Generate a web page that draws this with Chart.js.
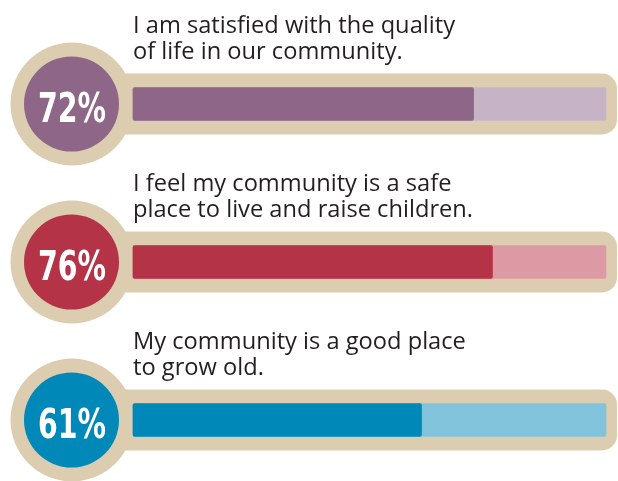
<!DOCTYPE html>
<html>
<head>
<meta charset="utf-8">
<script src="https://cdn.jsdelivr.net/npm/chart.js@4/dist/chart.umd.min.js"></script>
<style>
  html, body { margin: 0; padding: 0; background: #ffffff; }
  canvas { display: block; }
</style>
</head>
<body>
<canvas id="survey-graph" width="618" height="481"></canvas>
<script>
// survey statements (two lines each) and share who agreed
const statements = [
  ["I am satisfied with the quality", "of life in our community."],
  ["I feel my community is a safe", "place to live and raise children."],
  ["My community is a good place", "to grow old."]
];
const percentages = [72, 76, 61];
const fullScale = [100, 100, 100];

const barColors = ["#8e6688", "#b43347", "#0088b8"];
const trackColors = ["#c7b3c6", "#dd9aa5", "#82c4dc"];
const frameColor = "#dccdb0";
const textColor = "#231f20";

// beige pill + ring behind each bar, using the y scale for row positions
const framePlugin = {
  id: "frames",
  beforeDatasetsDraw(chart) {
    const ctx = chart.ctx;
    const yScale = chart.scales.y;
    const right = chart.chartArea.right + 11;
    statements.forEach((s, i) => {
      const y = yScale.getPixelForValue(i);
      ctx.save();
      ctx.fillStyle = frameColor;
      ctx.beginPath();
      ctx.roundRect(60, y - 30.5, right - 60, 61, 15);
      ctx.fill();
      ctx.beginPath();
      ctx.arc(72, y, 61.5, 0, Math.PI * 2);
      ctx.fill();
      ctx.fillStyle = barColors[i];
      ctx.beginPath();
      ctx.arc(71.5, y, 47.5, 0, Math.PI * 2);
      ctx.fill();
      ctx.restore();
    });
  },
  afterDatasetsDraw(chart) {
    const ctx = chart.ctx;
    const yScale = chart.scales.y;
    const left = chart.chartArea.left;
    statements.forEach((lines, i) => {
      const y = yScale.getPixelForValue(i);
      ctx.save();
      // statement text
      ctx.fillStyle = textColor;
      ctx.font = "24px 'Open Sans', sans-serif";
      ctx.textBaseline = "alphabetic";
      ctx.textAlign = "left";
      const w0 = ctx.measureText(statements[0][0]).width;
      const sx = Math.min(1, 322 / w0);
      lines.forEach((line, j) => {
        ctx.save();
        ctx.translate(left, y - 71 + j * 26);
        ctx.scale(sx, 1);
        ctx.fillText(line, 0, 0);
        ctx.restore();
      });
      // percentage in the ring
      const label = percentages[i] + "%";
      ctx.fillStyle = "#ffffff";
      ctx.font = "bold 41px 'Liberation Sans Narrow', 'DejaVu Sans Condensed', 'Roboto', sans-serif";
      ctx.textAlign = "center";
      const lw = ctx.measureText(label).width;
      ctx.translate(72, y + 18);
      ctx.scale(68 / lw, 1);
      ctx.fillText(label, 0, 0);
      ctx.restore();
    });
  }
};

new Chart("survey-graph", {
  type: "bar",
  data: {
    labels: statements.map(s => s.join(" ")),
    datasets: [
      {
        data: percentages,
        backgroundColor: barColors,
        barThickness: 33,
        borderRadius: 2,
        borderSkipped: false,
        grouped: false,
        clip: false,
        order: 0
      },
      {
        data: fullScale,
        backgroundColor: trackColors,
        barThickness: 33,
        borderRadius: 2,
        borderSkipped: false,
        grouped: false,
        clip: false,
        order: 1
      }
    ]
  },
  options: {
    indexAxis: "y",
    responsive: false,
    animation: false,
    devicePixelRatio: 1,
    layout: { padding: { left: 133, right: 12, top: 104, bottom: 61 } },
    plugins: {
      legend: { display: false },
      tooltip: { enabled: false },
      title: { display: false }
    },
    scales: {
      x: { display: false, min: 0, max: 100 },
      y: { display: false, offset: false }
    }
  },
  plugins: [framePlugin]
});
</script>
</body>
</html>
